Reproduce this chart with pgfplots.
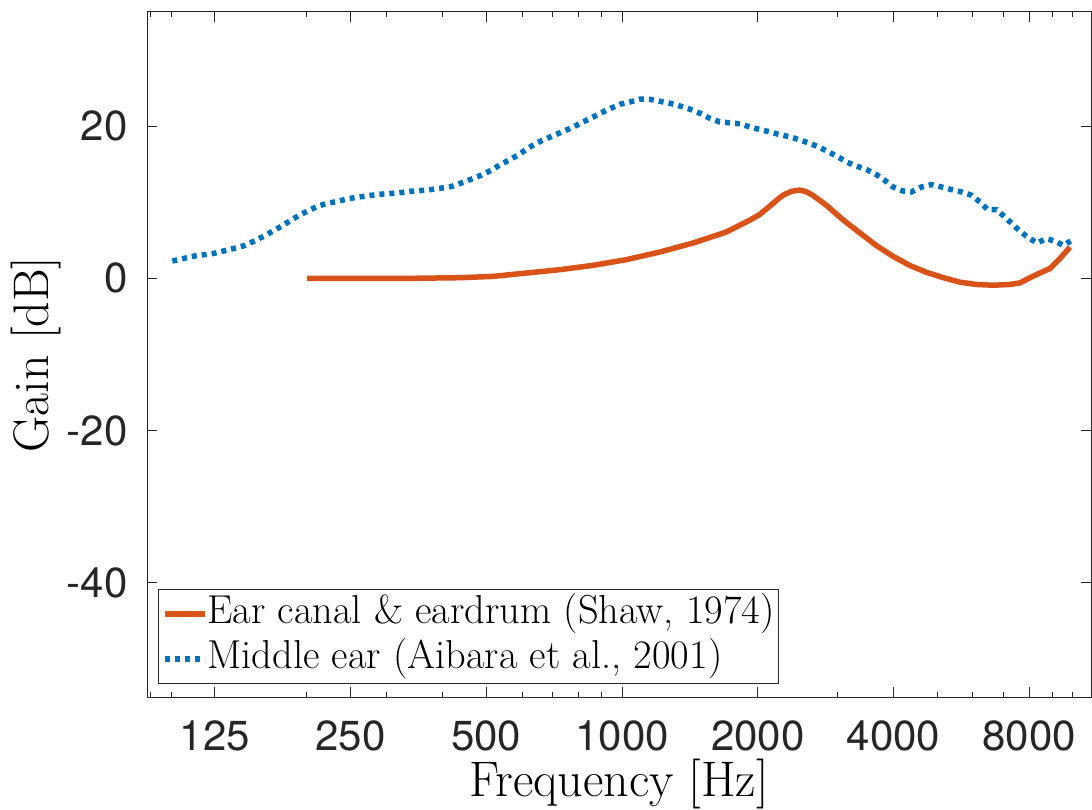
\documentclass[border=0pt]{standalone}
\usepackage{fontspec}
\usepackage{pgfplots}
\pgfplotsset{compat=1.18}
\newfontfamily\heros{TeX Gyre Heros}
\definecolor{mlorange}{rgb}{0.85,0.325,0.098}
\definecolor{mlblue}{rgb}{0,0.447,0.741}
\definecolor{axgray}{rgb}{0.15,0.15,0.15}

\begin{document}
\begin{tikzpicture}
  \begin{axis}[
    scale only axis,
    width=472pt, height=342.5pt,
    xmode=log,
    xmin=88.39, xmax=10970,
    ymin=-55, ymax=35,
    xtick={125,250,500,1000,2000,4000,8000},
    xticklabels={125,250,500,1000,2000,4000,8000},
    minor xtick={90,100,200,300,400,600,700,800,900,3000,5000,6000,7000,9000,10000},
    ytick={-40,-20,0,20},
    yticklabels={-40,-20,0,20},
    major tick length=5pt, minor tick length=2.5pt,
    tick style={axgray, line width=0.5pt},
    axis line style={axgray, line width=0.5pt},
    ticklabel style={font=\heros\fontsize{21}{25}\selectfont, text=axgray},
    xticklabel style={inner sep=0pt, yshift=-11.5pt},
    yticklabel style={inner sep=0pt, xshift=-9.5pt},
    xlabel={Frequency [Hz]},
    ylabel={Gain [dB]},
    label style={font=\fontsize{25}{30}\selectfont},
    xlabel style={at={(axis description cs:0.5,-0.127)}, anchor=center},
    ylabel style={at={(axis description cs:-0.118,0.5)}, anchor=center},
    legend cell align=left,
    legend image code/.code={\draw[#1] (0pt,0pt) -- (20pt,0pt);},
    legend style={
      at={(axis description cs:0.0115,0.0185)}, anchor=south west,
      draw=axgray, line width=0.5pt,
      font=\fontsize{20.2}{24}\selectfont,
      inner xsep=1.8pt, inner ysep=2pt,
      row sep=1.9pt,
      nodes={inner sep=0pt},
      /tikz/every odd column/.style={column sep=0pt},
      /tikz/every even column/.style={nodes={text height=14.7pt, text depth=5.9pt, inner sep=0pt}},
    },
  ]

% ear canal & eardrum
\addplot[mlorange, line width=2.75pt, line join=round, sharp plot] coordinates {
  (200,0) (250,0) (332,0) (436,0.09) (517,0.26) (613,0.7) (727,1.14)
  (862,1.71) (1022,2.46) (1212,3.46) (1436,4.64) (1703,6.09) (1919,7.63)
  (2020,8.4) (2125,9.47) (2237,10.6) (2295,11.05) (2380,11.45) (2478,11.6)
  (2560,11.4) (2652,10.9) (2840,9.6) (3091,7.7) (3366,6.0) (3667,4.3)
  (3992,2.9) (4347,1.7) (4734,0.8) (5155,0.1) (5614,-0.5) (6114,-0.8)
  (6656,-0.9) (7250,-0.8) (7626,-0.6) (8165,0.3) (8892,1.3) (9358,2.6)
  (9850,4.1)
};
\addlegendentry{Ear canal \& eardrum (Shaw, 1974)}

% middle ear
\addplot[mlblue, line width=2.75pt, dash pattern=on 2.5pt off 2.5pt, sharp plot] coordinates {
  (100.6,2.28) (112.4,2.93) (124.6,3.29) (138,3.95) (145.2,4.3) (152.8,4.9)
  (160.8,5.57) (167.8,6.18) (176.6,6.93) (184.3,7.63) (193,8.33) (202.4,8.95)
  (213,9.57) (224.2,9.91) (236,10.17) (248.3,10.49) (261.4,10.7) (275,10.88)
  (289.5,11.05) (304.7,11.14) (323.5,11.28) (340.5,11.45) (358.3,11.54)
  (377.1,11.67) (398.9,11.88) (419.9,12.1) (443.2,12.6) (462.5,13.03)
  (486.9,13.55) (512.4,14.2) (534.7,14.87) (560.7,15.53) (587.1,16.18)
  (612.9,16.93) (642.7,17.72) (673,18.25) (708.3,18.82) (742.7,19.34)
  (780.5,19.91) (818.4,20.53) (858.7,21.14) (899.1,21.75) (942.9,22.33)
  (992.4,22.9) (1044,23.2) (1097,23.55) (1157,23.51) (1217,23.25)
  (1280,22.99) (1347,22.63) (1419,22.2) (1492,21.67) (1564,21.05)
  (1646,20.57) (1739,20.43) (1830,20.3) (1926,19.87) (2019,19.57)
  (2125,19.25) (2245,18.86) (2363,18.59) (2487,18.16) (2617,17.72)
  (2745,17.2) (2878,16.58) (3014,15.96) (3155,15.26) (3321,14.74)
  (3484,14.3) (3654,13.68) (3826,12.89) (3992,12.01) (4189,11.49)
  (4385,11.36) (4615,12.01) (4857,12.33) (5112,12.01) (5380,11.67)
  (5662,11.36) (5960,10.92) (6218,10.04) (6468,9.04) (6773,9.04)
  (7065,8.07) (7350,7.1) (7629,6.22) (7959,5.36) (8334,4.64) (8712,5.22)
  (9122,4.91) (9517,4.34) (9885,4.91)
};
\addlegendentry{Middle ear (Aibara et al., 2001)}

  \end{axis}
  \pgfresetboundingbox
  \path (current axis.south west) ++(-73.5pt,-56pt)
    rectangle ([shift={(0.5pt,6pt)}]current axis.north east);
\end{tikzpicture}
\end{document}
